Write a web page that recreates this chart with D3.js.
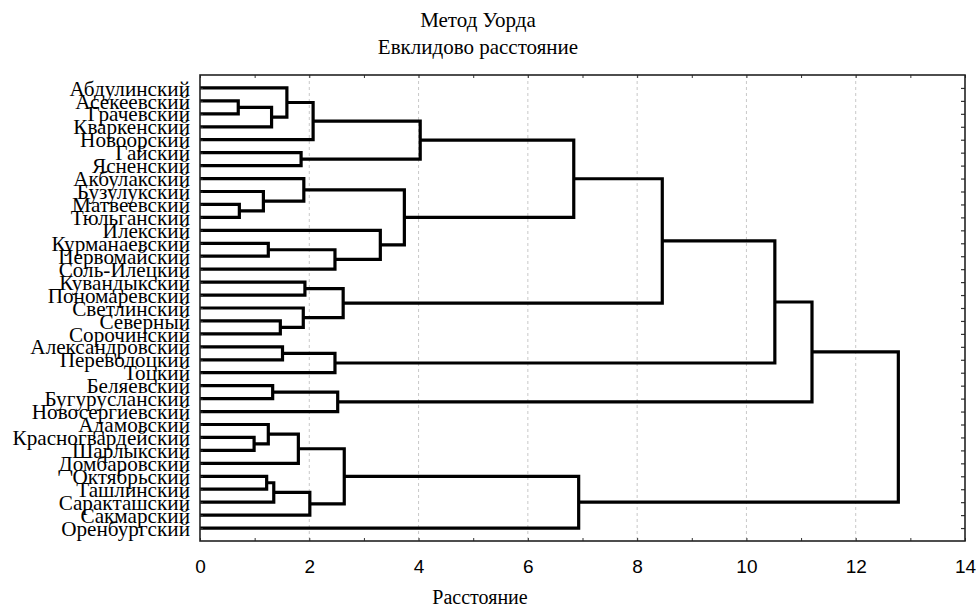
<!DOCTYPE html>
<html>
<head>
<meta charset="utf-8">
<script src="https://cdn.jsdelivr.net/npm/d3@7"></script>
<style>
  html, body { margin: 0; padding: 0; background: #fff; }
  svg { display: block; }
</style>
</head>
<body>
<svg id="chart" width="979" height="614"></svg>
<script>
// ---- data ----
const leaves = [
  "Абдулинский", "Асекеевский", "Грачевский", "Кваркенский", "Новоорский",
  "Гайский", "Ясненский", "Акбулакский", "Бузулукский", "Матвеевский",
  "Тюльганский", "Илекский", "Курманаевский", "Первомайский", "Соль-Илецкий",
  "Кувандыкский", "Пономаревский", "Светлинский", "Северный", "Сорочинский",
  "Александровский", "Переволоцкий", "Тоцкий", "Беляевский", "Бугурусланский",
  "Новосергиевский", "Адамовский", "Красногвардейский", "Шарлыкский", "Домбаровский",
  "Октябрьский", "Ташлинский", "Саракташский", "Сакмарский", "Оренбургский"
];
// linkage: [a, b, distance]; indices < 35 are leaves, 35+k is merge k
const mergeLeft  = [1, 35, 0, 37, 5, 38, 9, 8, 7, 12, 44, 11, 43, 40, 15, 18, 17, 49, 48, 20, 54, 53, 23, 57, 56, 27, 26, 61, 30, 63, 64, 62, 66, 59];
const mergeRight = [2, 3, 36, 4, 6, 39, 10, 41, 42, 13, 14, 45, 46, 47, 16, 19, 50, 51, 52, 21, 22, 55, 24, 25, 58, 28, 60, 29, 31, 32, 33, 65, 34, 67];
const mergeDist  = [0.70, 1.31, 1.59, 2.07, 1.85, 4.03, 0.72, 1.16, 1.90, 1.25, 2.47, 3.30, 3.74, 6.84, 1.92, 1.47, 1.89, 2.62, 8.46, 1.51, 2.47, 10.52, 1.33, 2.52, 11.20, 0.99, 1.25, 1.80, 1.22, 1.35, 2.01, 2.64, 6.93, 12.78];
const xTicks = [0, 2, 4, 6, 8, 10, 12, 14];
const titleLines = ["Метод Уорда", "Евклидово расстояние"];
const xTitle = "Расстояние";

// ---- layout ----
const L = 200, R = 965, T = 75, B = 541;
const svg = d3.select("#chart");
const x = d3.scaleLinear().domain([0, 14]).range([L, R]);
const y = d3.scalePoint().domain(d3.range(leaves.length)).range([T, B]).padding(1);

// gridlines
svg.append("g").selectAll("line")
  .data(xTicks.filter(d => d > 0 && d < 14))
  .join("line")
  .attr("x1", d => x(d)).attr("x2", d => x(d))
  .attr("y1", T).attr("y2", B)
  .attr("stroke", "#c8c8c8").attr("stroke-width", 1)
  .attr("stroke-dasharray", "3,3");

// compute node positions
const N = leaves.length;
const nodeX = [], nodeY = [];
leaves.forEach((d, i) => { nodeX[i] = x(0); nodeY[i] = y(i); });
mergeDist.forEach((h, k) => {
  const a = mergeLeft[k], b = mergeRight[k];
  nodeX[N + k] = x(h);
  nodeY[N + k] = (nodeY[a] + nodeY[b]) / 2;
});

// dendrogram links
svg.append("g").selectAll("path")
  .data(mergeDist.map((h, k) => k))
  .join("path")
  .attr("d", k => {
    const a = mergeLeft[k], b = mergeRight[k], xm = nodeX[N + k];
    return `M${nodeX[a]},${nodeY[a]}H${xm}V${nodeY[b]}H${nodeX[b]}`;
  })
  .attr("fill", "none")
  .attr("stroke", "#000")
  .attr("stroke-width", 3.2)
  .attr("stroke-linejoin", "miter");

// axes (ticks inward)
const minor = d3.range(0, 15);
svg.append("g").attr("transform", `translate(0,${B})`)
  .call(d3.axisTop(x).tickValues(minor).tickSize(3).tickFormat(""))
  .call(g => g.select(".domain").remove())
  .selectAll("line").attr("stroke", "#333");
svg.append("g").attr("transform", `translate(0,${T})`)
  .call(d3.axisBottom(x).tickValues(minor).tickSize(3).tickFormat(""))
  .call(g => g.select(".domain").remove())
  .selectAll("line").attr("stroke", "#333");
svg.append("g").attr("transform", `translate(${R},0)`)
  .call(d3.axisLeft(y).tickSize(4).tickFormat(""))
  .call(g => g.select(".domain").remove())
  .selectAll("line").attr("stroke", "#333").attr("stroke-width", 1.2);
svg.append("g").attr("transform", `translate(${L},0)`)
  .call(d3.axisRight(y).tickSize(3).tickFormat(""))
  .call(g => g.select(".domain").remove())
  .selectAll("line").attr("stroke", "#333");

// tick labels
svg.append("g").attr("transform", `translate(0,${B})`)
  .call(d3.axisBottom(x).tickValues(xTicks).tickSize(0).tickPadding(19).tickFormat(d3.format("d")))
  .call(g => g.select(".domain").remove())
  .selectAll("text")
  .attr("font-family", "Liberation Sans, Arial, sans-serif")
  .attr("font-size", 19)
  .attr("fill", "#000");

// frame
svg.append("rect")
  .attr("x", L).attr("y", T).attr("width", R - L).attr("height", B - T)
  .attr("fill", "none").attr("stroke", "#222").attr("stroke-width", 1.6);

// leaf labels
svg.append("g").selectAll("text")
  .data(leaves)
  .join("text")
  .attr("x", L - 10)
  .attr("y", (d, i) => y(i))
  .attr("dy", "0.36em")
  .attr("text-anchor", "end")
  .attr("font-family", "Liberation Serif, Times New Roman, serif")
  .attr("font-size", 21.2)
  .attr("fill", "#000")
  .text(d => d);

// titles
svg.append("g").selectAll("text")
  .data(titleLines)
  .join("text")
  .attr("x", 478)
  .attr("y", (d, i) => 27 + i * 27)
  .attr("text-anchor", "middle")
  .attr("font-family", "Liberation Serif, Times New Roman, serif")
  .attr("font-size", 21)
  .text(d => d);

svg.append("text")
  .attr("x", 480).attr("y", 604)
  .attr("text-anchor", "middle")
  .attr("font-family", "Liberation Serif, Times New Roman, serif")
  .attr("font-size", 20)
  .text(xTitle);
</script>
</body>
</html>
